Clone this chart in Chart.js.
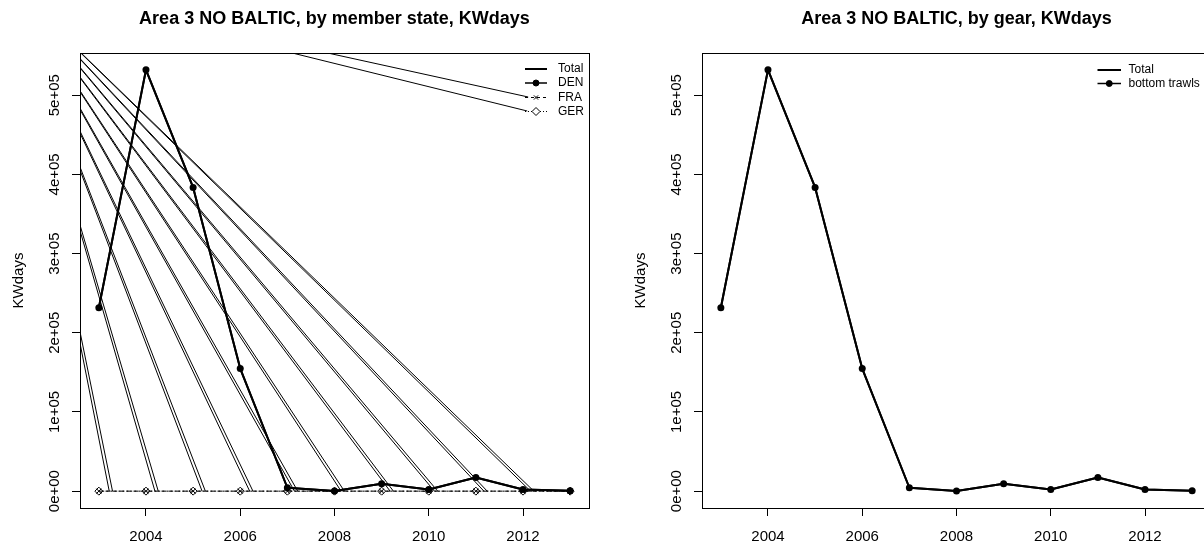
<!DOCTYPE html>
<html>
<head>
<meta charset="utf-8">
<script src="https://cdn.jsdelivr.net/npm/chart.js@4.4.1/dist/chart.umd.min.js"></script>
<style>
  html, body { margin: 0; padding: 0; background: #fff; overflow: hidden; }
  body { width: 1204px; height: 546px; position: relative; }
  canvas { position: absolute; top: 0; }
  #stateChart { left: 0; }
  #gearChart { left: 622px; }
</style>
</head>
<body>
<canvas id="stateChart" width="622" height="546"></canvas>
<canvas id="gearChart" width="622" height="546"></canvas>
<script>
// data
const years = [2003, 2004, 2005, 2006, 2007, 2008, 2009, 2010, 2011, 2012, 2013];
const totalKW = [231600, 532000, 383500, 154800, 4300, 300, 9300, 2100, 17200, 2100, 500];
const denKW = [231600, 532000, 383500, 154800, 4300, 300, 9300, 2100, 17200, 2100, 500];
const fraKW = [0, 0, 0, 0, 0, 0, 0, 0, 0, 0, 0];
const gerKW = [0, 0, 0, 0, 0, 0, 0, 0, 0, 0, 0];
const gearTotalKW = [231600, 532000, 383500, 154800, 4300, 300, 9300, 2100, 17200, 2100, 500];
const bottomTrawlsKW = [231600, 532000, 383500, 154800, 4300, 300, 9300, 2100, 17200, 2100, 500];

const xTicks = [2004, 2006, 2008, 2010, 2012];
const yTicks = [0, 100000, 200000, 300000, 400000, 500000];
const yTickLabels = ['0e+00', '1e+05', '2e+05', '3e+05', '4e+05', '5e+05'];

// stray straight lines in the member-state panel: all come from one far point up-left
const rayOrigin = { x: 2001.09, y: 641700 };
const rayEndsA = [2003.22, 2004.19, 2005.19, 2006.20, 2007.15, 2008.14, 2009.18, 2010.12, 2011.17, 2012.16];
const rayEndsB = [2003.29, 2004.26, 2005.26, 2006.27, 2007.22, 2008.21, 2009.25, 2010.19, 2011.24, 2012.23];
const legendRayEnds = [{ x: 2012.11, y: 497700 }, { x: 2012.09, y: 480000 }];

const FONT = "'Liberation Sans', Arial, Helvetica, sans-serif";
Chart.defaults.font.family = FONT;
Chart.defaults.color = '#000';

// R style frame round the plot region
const boxPlugin = {
  id: 'rBox',
  afterDraw(chart) {
    const { ctx, chartArea: a } = chart;
    ctx.save();
    ctx.strokeStyle = '#000';
    ctx.lineWidth = 1;
    ctx.strokeRect(Math.round(a.left) + 0.5, Math.round(a.top) + 0.5,
      Math.round(a.right - a.left), Math.round(a.bottom - a.top));
    ctx.restore();
  }
};

// legend without a box, top right of the plot region
const legendPlugin = {
  id: 'rLegend',
  afterDraw(chart, args, opts) {
    if (!opts.items) return;
    const { ctx, chartArea: a } = chart;
    ctx.save();
    opts.items.forEach((it, i) => {
      const y = a.top + opts.rows[i];
      const x0 = a.right - opts.lineFrom;
      const x1 = a.right - opts.lineTo;
      ctx.strokeStyle = '#000';
      ctx.lineWidth = it.width;
      ctx.setLineDash(it.dash || []);
      ctx.beginPath();
      ctx.moveTo(x0, y);
      ctx.lineTo(x1, y);
      ctx.stroke();
      ctx.setLineDash([]);
      if (it.point) {
        ctx.fillStyle = it.fill;
        ctx.lineWidth = 1;
        Chart.helpers.drawPoint(ctx, { pointStyle: it.point, radius: it.radius, borderWidth: 1, rotation: 0 }, (x0 + x1) / 2, y);
      }
      ctx.fillStyle = '#000';
      ctx.font = '12px ' + FONT;
      ctx.textBaseline = 'middle';
      ctx.textAlign = 'left';
      ctx.fillText(it.label, a.right - opts.textAt, y);
    });
    ctx.restore();
  }
};

Chart.register(boxPlugin, legendPlugin);

function xy(values) {
  return years.map((x, i) => ({ x: x, y: values[i] }));
}

function makeScales() {
  return {
    x: {
      type: 'linear',
      min: 2002.6,
      max: 2013.4,
      afterBuildTicks: s => { s.ticks = xTicks.map(v => ({ value: v })); },
      afterFit: s => { s.height = 38; },
      ticks: { font: { size: 15 }, color: '#000', padding: 12, maxRotation: 0, autoSkip: false,
        callback: v => String(v) },
      grid: { drawOnChartArea: false, drawTicks: true, tickLength: 8, color: '#000', lineWidth: 1 },
      border: { display: true, color: '#000', width: 1 }
    },
    y: {
      type: 'linear',
      min: -21280,
      max: 553280,
      afterBuildTicks: s => { s.ticks = yTicks.map(v => ({ value: v })); },
      afterFit: s => { s.width = 80; },
      ticks: { font: { size: 15 }, color: '#000', padding: -3.5, minRotation: 90, maxRotation: 90,
        crossAlign: 'center', autoSkip: false, callback: (v, i) => yTickLabels[i] },
      grid: { drawOnChartArea: false, drawTicks: true, tickLength: 8, color: '#000', lineWidth: 1 },
      border: { display: true, color: '#000', width: 1 },
      title: { display: true, text: 'KWdays', font: { size: 15 }, color: '#000', padding: { top: 10, bottom: 0 } }
    }
  };
}

function makeOptions(titleText, legend) {
  return {
    responsive: false,
    animation: false,
    devicePixelRatio: 1,
    layout: { padding: { left: 0, right: 33, top: 0, bottom: 0 } },
    scales: makeScales(),
    plugins: {
      legend: { display: false },
      tooltip: { enabled: false },
      title: { display: true, text: titleText, fullSize: false, color: '#000',
        font: { size: 18, weight: 'bold' }, padding: { top: 8, bottom: 23.4 } },
      rLegend: legend
    }
  };
}

const lineBase = { borderColor: '#000', tension: 0, borderJoinStyle: 'round', borderCapStyle: 'round' };

const rayTargets = rayEndsA.map(x => ({ x: x, y: 0 }))
  .concat(rayEndsB.map(x => ({ x: x, y: 0 })), legendRayEnds);
const rayDatasets = rayTargets.map(p => ({
  label: 'ray', data: [rayOrigin, p], borderColor: '#000', borderWidth: 1, pointRadius: 0, tension: 0
}));

new Chart(document.getElementById('stateChart'), {
  type: 'line',
  data: {
    datasets: [
      Object.assign({ label: 'DEN', data: xy(denKW), borderWidth: 2, pointRadius: 3.5,
        pointBackgroundColor: '#000', pointBorderColor: '#000', pointBorderWidth: 0 }, lineBase),
      Object.assign({ label: 'Total', data: xy(totalKW), borderWidth: 2, pointRadius: 0 }, lineBase),
      Object.assign({ label: 'FRA', data: xy(fraKW), borderWidth: 1, borderDash: [4, 3], pointStyle: 'crossRot',
        pointRadius: 3.5, pointBorderWidth: 1, pointBorderColor: '#000', pointBackgroundColor: 'rgba(0,0,0,0)' }, lineBase),
      Object.assign({ label: 'GER', data: xy(gerKW), borderWidth: 1, borderDash: [1, 3], pointStyle: 'rectRot',
        pointRadius: 4, pointBorderWidth: 1, pointBorderColor: '#000', pointBackgroundColor: '#fff' }, lineBase)
    ].concat(rayDatasets)
  },
  options: makeOptions('Area 3 NO BALTIC, by member state, KWdays', {
    lineFrom: 64, lineTo: 42, textAt: 31, rows: [16, 30, 44.5, 58.5],
    items: [
      { label: 'Total', width: 2 },
      { label: 'DEN', width: 1.5, point: 'circle', radius: 3, fill: '#000' },
      { label: 'FRA', width: 1, dash: [3, 3], point: 'crossRot', radius: 3, fill: 'rgba(0,0,0,0)' },
      { label: 'GER', width: 1, dash: [1, 2], point: 'rectRot', radius: 4, fill: '#fff' }
    ]
  })
});

new Chart(document.getElementById('gearChart'), {
  type: 'line',
  data: {
    datasets: [
      Object.assign({ label: 'bottom trawls', data: xy(bottomTrawlsKW), borderWidth: 2, pointRadius: 3.5,
        pointBackgroundColor: '#000', pointBorderColor: '#000', pointBorderWidth: 0 }, lineBase),
      Object.assign({ label: 'Total', data: xy(gearTotalKW), borderWidth: 2, pointRadius: 0 }, lineBase)
    ]
  },
  options: makeOptions('Area 3 NO BALTIC, by gear, KWdays', {
    lineFrom: 113.5, lineTo: 90, textAt: 82.5, rows: [17, 30.5],
    items: [
      { label: 'Total', width: 2 },
      { label: 'bottom trawls', width: 1.5, point: 'circle', radius: 3, fill: '#000' }
    ]
  })
});
</script>
</body>
</html>
